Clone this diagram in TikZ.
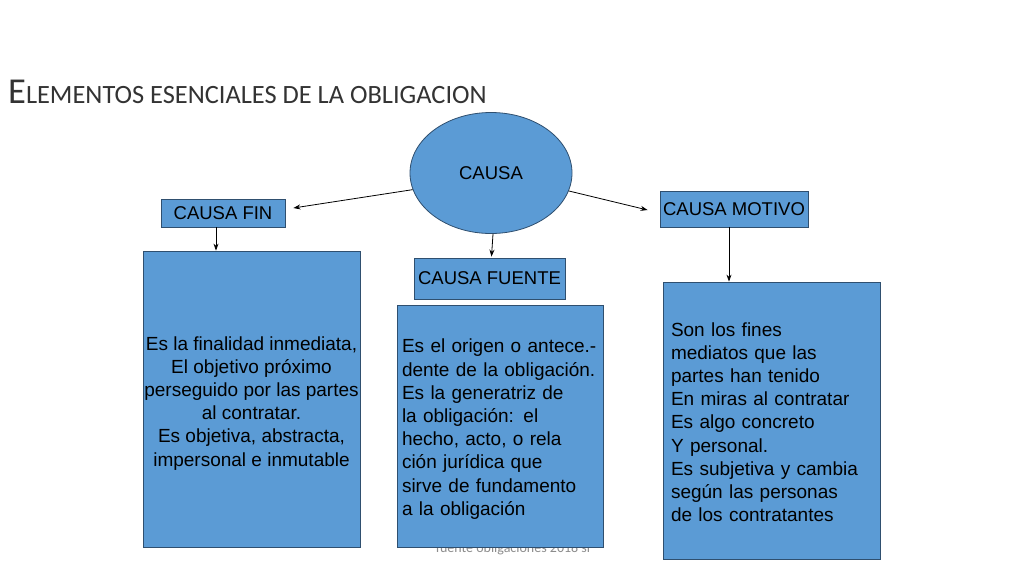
\documentclass[tikz,border=0pt]{standalone}
\usepackage{fontspec}
\setmainfont{Liberation Sans}
\newfontfamily\calib{Carlito}
\usetikzlibrary{arrows.meta,shapes.geometric}
\definecolor{boxblue}{HTML}{5B9BD5}
\definecolor{boxline}{HTML}{2F4F6F}
\definecolor{titlegray}{HTML}{333333}
\definecolor{footgray}{HTML}{8C8C8C}
\tikzset{
  bluebox/.style={draw=boxline, fill=boxblue, line width=0.8pt, inner sep=0pt},
  smallbox/.style={bluebox, font=\fontsize{18.5}{20}\selectfont},
  bigbox/.style={bluebox, font=\fontsize{19}{23.2}\selectfont, anchor=center},
  conn/.style={draw=black, line width=0.8pt, -{Stealth[length=7pt,width=5pt]}}
}
\begin{document}
\begin{tikzpicture}[x=1pt,y=-1pt]
\useasboundingbox[fill=white] (0,0) rectangle (1024,576);
% title
\node[anchor=base west, inner sep=0pt, text=titlegray, font=\calib] (title) at (8,103)
  {\fontsize{36.5}{37}\selectfont E\fontsize{26.4}{27}\selectfont LEMENTOS ESENCIALES DE LA OBLIGACION};
% footer
\node[text=footgray, font=\calib\fontsize{14}{14}\selectfont, inner sep=0pt] (foot) at (513,549) {fuente obligaciones 2018 sl};
% central ellipse
\node[ellipse, draw=boxline, fill=boxblue, line width=0.8pt, minimum width=162pt, minimum height=121pt, inner sep=0pt, font=\fontsize{18.5}{20}\selectfont] (causa) at (491,173) {CAUSA};
% small boxes
\node[smallbox, minimum width=124pt, minimum height=28pt] (causafin) at (223,213) {CAUSA FIN};
\node[smallbox, minimum width=148pt, minimum height=36pt] (causamotivo) at (734,209) {CAUSA MOTIVO};
\node[smallbox, minimum width=151pt, minimum height=41pt] (causafuente) at (489.5,278.5) {CAUSA FUENTE};
% big boxes
\node[bigbox, minimum width=217pt, minimum height=296pt, align=center] (leftbox) at (251.5,399)
  {\rule{0pt}{22pt}Es la finalidad inmediata,\\El objetivo próximo\\perseguido por las partes\\al contratar.\\Es objetiva, abstracta,\\impersonal e inmutable};
\node[bigbox, minimum width=206pt, minimum height=242pt, text width=196pt, inner xsep=5pt, align=left] (midbox) at (500,426)
  {\rule{0pt}{20pt}Es el origen o antece.-\\dente de la obligación.\\Es la generatriz de\\la obligación: el\\hecho, acto, o rela\\ción jurídica que\\sirve de fundamento\\a la obligación};
\node[bigbox, minimum width=217pt, minimum height=277pt, text width=201pt, inner xsep=8pt, align=left] (rightbox) at (771.5,420.5)
  {\rule{0pt}{17pt}Son los fines\\mediatos que las\\partes han tenido\\En miras al contratar\\Es algo concreto\\Y personal.\\Es subjetiva y cambia\\según las personas\\de los contratantes};
% connectors
\draw[conn] (causa.192) -- ([xshift=8pt,yshift=5pt]causafin.east);
\draw[conn] (causa.347) -- ([xshift=-12pt,yshift=-1pt]causamotivo.west);
\draw[conn] ([xshift=2pt]causa.south) -- ([xshift=2pt,yshift=1pt]causafuente.north);
\draw[conn] ([xshift=-7pt]causafin.south) -- ([xshift=-7pt]causafin.south |- leftbox.north);
\draw[conn] ([xshift=-5pt]causamotivo.south) -- ([xshift=-5pt]causamotivo.south |- rightbox.north);
\end{tikzpicture}
\end{document}
